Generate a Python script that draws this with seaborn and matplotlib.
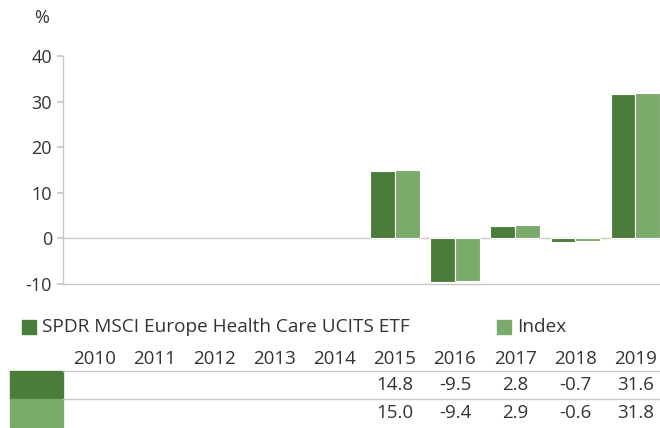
import matplotlib
matplotlib.use("Agg")
import matplotlib.pyplot as plt
from matplotlib.patches import Rectangle
from matplotlib.transforms import blended_transform_factory
import numpy as np
import pandas as pd
import seaborn as sns

years = ["2010", "2011", "2012", "2013", "2014", "2015", "2016", "2017", "2018", "2019"]
fund_label = "SPDR MSCI Europe Health Care UCITS ETF"
index_label = "Index"
fund_values = [np.nan, np.nan, np.nan, np.nan, np.nan, 14.8, -9.5, 2.8, -0.7, 31.6]
index_values = [np.nan, np.nan, np.nan, np.nan, np.nan, 15.0, -9.4, 2.9, -0.6, 31.8]
y_ticks = [-10, 0, 10, 20, 30, 40]

dark = "#4a7c3a"
light = "#7aab6b"
grey_line = "#c8c8c8"
text_col = "#333333"

df = pd.DataFrame({
    "year": years * 2,
    "series": [fund_label] * len(years) + [index_label] * len(years),
    "value": fund_values + index_values,
})

sns.set_theme(style="white")
plt.rcParams["font.family"] = ["Open Sans", "DejaVu Sans"]

fig = plt.figure(figsize=(6.6, 4.28), dpi=100)
W, H = 660, 428


def fy(y):
    return 1 - y / H


ax = fig.add_axes([63 / W, fy(284), 1 - 63 / W, (284 - 56) / H])

sns.barplot(
    data=df, x="year", y="value", hue="series", order=years,
    hue_order=[fund_label, index_label], palette=[dark, light],
    width=0.82, ax=ax, legend=False, saturation=1,
)
for bar in ax.patches:
    bar.set_edgecolor("white")
    bar.set_linewidth(0.8)

ax.set_ylim(-10, 40)
ax.set_xlim(-0.52, 9.41)
ax.set_yticks(y_ticks)
ax.set_yticklabels([str(t) for t in y_ticks], fontsize=13, color=text_col)
ax.set_xticks([])
ax.set_xlabel("")
ax.set_ylabel("")
ax.axhline(0, color=grey_line, lw=1, zorder=0)
for side in ["top", "right"]:
    ax.spines[side].set_visible(False)
for side in ["left", "bottom"]:
    ax.spines[side].set_color(grey_line)
    ax.spines[side].set_linewidth(1)
ax.tick_params(axis="y", length=4, color=grey_line, pad=4, left=True)

fig.text(42 / W, fy(18), "%", fontsize=13, color=text_col, ha="center", va="center")

# legend
for x0, col, label in [(22, dark, fund_label), (497, light, index_label)]:
    fig.patches.append(Rectangle((x0 / W, fy(334)), 14 / W, 14 / H,
                                 transform=fig.transFigure, color=col))
    fig.text((x0 + 20) / W, fy(327), label, fontsize=13.7, color=text_col, va="center", ha="left")

# table below the chart, columns aligned with the bar categories
tr = blended_transform_factory(ax.transData, fig.transFigure)
for i, yr in enumerate(years):
    fig.text(i, fy(359), yr, fontsize=13.5, color=text_col, ha="center", va="center", transform=tr)

fig.patches.append(Rectangle((10 / W, fy(399)), 53 / W, 28 / H, transform=fig.transFigure, color=dark))
fig.patches.append(Rectangle((10 / W, fy(427)), 53 / W, 28 / H, transform=fig.transFigure, color=light))
for yl in [371, 399]:
    fig.add_artist(plt.Line2D([63 / W, 1], [fy(yl), fy(yl)], color=grey_line, lw=1, transform=fig.transFigure))

for row_vals, y_pos in [(fund_values, 385), (index_values, 413)]:
    for i, v in enumerate(row_vals):
        if not np.isnan(v):
            fig.text(i, fy(y_pos), f"{v:.1f}", fontsize=13.5, color=text_col, ha="center", va="center", transform=tr)

fig.savefig("out.png", dpi=100)
